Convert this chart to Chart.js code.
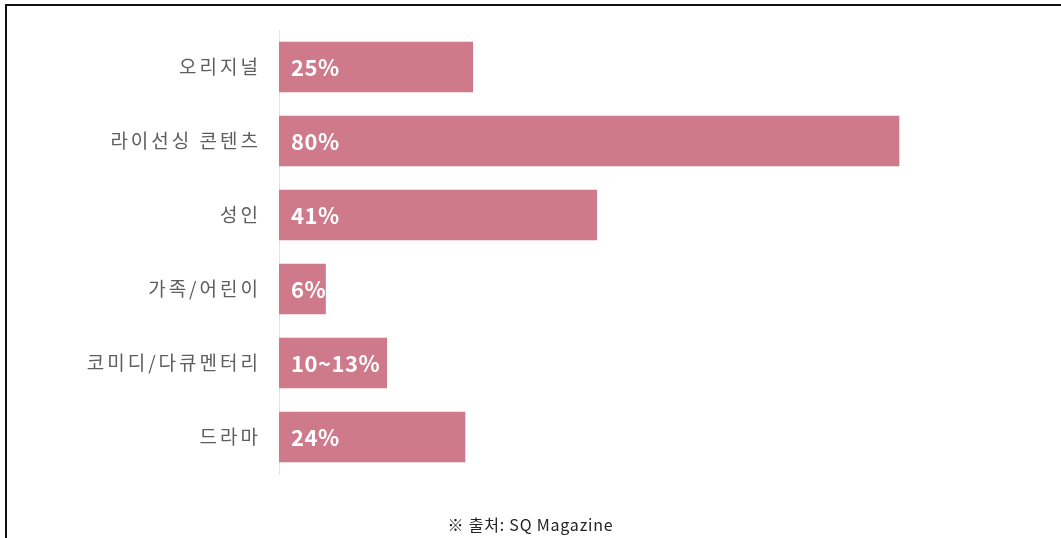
<!DOCTYPE html>
<html><head><meta charset="utf-8">
<script src="https://cdn.jsdelivr.net/npm/chart.js@4"></script>
<style>
html,body{margin:0;padding:0;background:#fff;width:1061px;height:538px;overflow:hidden;}
#frame{position:absolute;left:5px;top:4px;width:1061px;height:540px;border-top:2px solid #111;border-left:2px solid #111;box-sizing:border-box;}
#wrap{position:absolute;left:0;top:0;width:1061px;height:538px;}
#src{position:absolute;left:0;width:1061px;top:512px;text-align:center;font-family:"Noto Sans CJK KR","Noto Sans",sans-serif;font-size:16px;letter-spacing:0.8px;color:#222;}
</style></head>
<body>
<div id="frame"></div>
<div id="wrap"><canvas id="c" width="1061" height="538"></canvas></div>
<div id="src">※ 출처: SQ Magazine</div>
<script>
const categories = ['오리지널','라이선싱 콘텐츠','성인','가족/어린이','코미디/다큐멘터리','드라마'];
const shareValues = [25, 80, 41, 6, 13.9, 24];
const valueLabels = ['25%','80%','41%','6%','10~13%','24%'];

const spacingPlugin = {
  id: 'spacing',
  beforeInit(chart) { chart.ctx.letterSpacing = '3px'; },
  beforeUpdate(chart) { chart.ctx.letterSpacing = '3px'; },
  beforeDraw(chart) { chart.ctx.letterSpacing = '3px'; }
};

const barLabelPlugin = {
  id: 'barLabels',
  afterDatasetsDraw(chart) {
    const ctx = chart.ctx;
    const meta = chart.getDatasetMeta(0);
    ctx.save();
    ctx.letterSpacing = '0.5px';
    ctx.font = 'bold 22px "Noto Sans CJK KR", "Open Sans", sans-serif';
    ctx.fillStyle = '#ffffff';
    ctx.textAlign = 'left';
    ctx.textBaseline = 'middle';
    meta.data.forEach((bar, i) => {
      ctx.fillText(valueLabels[i], bar.base + 12, bar.y + 1);
    });
    ctx.restore();
  }
};

new Chart(document.getElementById('c'), {
  type: 'bar',
  data: {
    labels: categories,
    datasets: [{
      data: shareValues,
      backgroundColor: '#cf7a8b',
      borderWidth: 0,
      barThickness: 50
    }]
  },
  options: {
    indexAxis: 'y',
    responsive: false,
    animation: false,
    layout: { padding: { left: 0, right: 7, top: 30, bottom: 64 } },
    plugins: { legend: { display: false }, tooltip: { enabled: false } },
    scales: {
      x: { display: false, min: 0, max: 100 },
      y: {
        grid: { display: false, drawTicks: false },
        border: { display: true, color: '#e4e4e4', width: 1 },
        ticks: {
          color: '#5e5e5e',
          padding: 18,
          font: { family: '"Noto Sans CJK KR", sans-serif', size: 19 }
        },
        afterFit(scale) { scale.width = 279; }
      }
    }
  },
  plugins: [spacingPlugin, barLabelPlugin]
});
</script>
</body></html>
